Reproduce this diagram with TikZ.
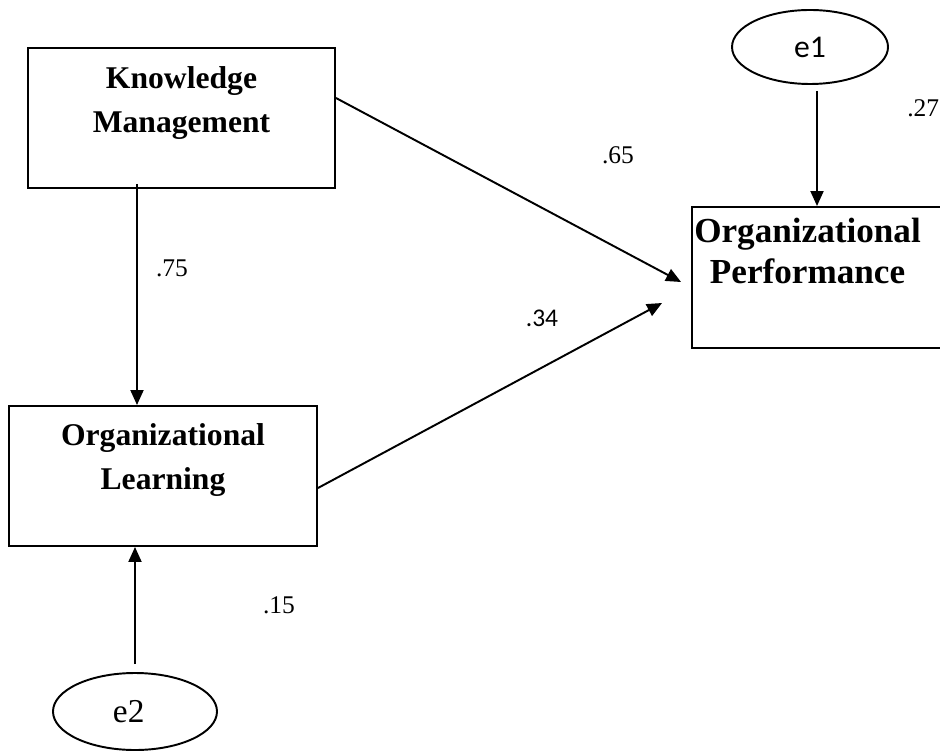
\documentclass[tikz,border=0pt]{standalone}
\usepackage{fontspec}
\setmainfont{Liberation Serif}
\newfontfamily\calibri{Carlito}
\usetikzlibrary{arrows.meta, positioning, calc, shapes.geometric}

\tikzset{
  box/.style={draw, line width=1.1pt, minimum width=6.14cm, minimum height=2.8cm, inner sep=0pt},
  boxtext/.style={font=\fontsize{18}{25}\selectfont\bfseries, align=center, inner sep=0pt, anchor=north},
  err/.style={draw, ellipse, line width=1.1pt, inner sep=0pt},
  arr/.style={line width=1.1pt, -{Triangle[length=0.3cm, width=0.26cm]}},
  coef/.style={font=\fontsize{14.5}{16}\selectfont, inner sep=0pt},
  coefsans/.style={font=\calibri\fontsize{14.5}{16}\selectfont, inner sep=0pt}
}

\begin{document}
\begin{tikzpicture}[x=0.2mm, y=-0.2mm]
    \useasboundingbox (0,0) rectangle (940,752);

    % Boxes
    \node[box] (km) at (181.5,118) {};
    \node[box, minimum width=6.16cm] (ol) at (163,476) {};
    \node[box, minimum width=5.2cm, minimum height=2.82cm] (op) at (822,277.5) {};

    % Box titles
    \node[boxtext] (km-t) at (181.5,66) {Knowledge\\Management};
    \node[boxtext] (ol-t) at (163,423) {Organizational\\Learning};
    \node[boxtext, font=\fontsize{20}{23}\selectfont\bfseries] (op-t) at (807.5,218) {Organizational\\Performance};

    % Error terms
    \node[err, font=\calibri\fontsize{18}{20}\selectfont, minimum width=3.12cm, minimum height=1.48cm] (e1) at (810,47) {e1};
    \node[err, font=\rmfamily\fontsize{19}{20}\selectfont, minimum width=3.28cm, minimum height=1.54cm] (e2) at (135,711.5) {\hspace*{-0.25cm}e2};

    % Paths
    \draw[arr] ($(km.east)+(0,-20)$) -- ($(op.west)+(-10,4.5)$);
    \draw[arr] ($(ol.east)+(0,12)$) -- ($(op.west)+(-29,25.5)$);
    \draw[arr] ($(km.south)+(-44.5,-5)$) coordinate (km-o) -- (km-o |- ol.north);
    \draw[arr] ($(e2.north)+(0,-8)$) -- (e2.north |- ol.south);
    \draw[arr] ($(e1.south)+(7,6)$) -- ($(e1.south |- op.north)+(7,0)$);

    % Coefficients
    \node[coef] (c65) at (618,155) {.65};
    \node[coefsans] (c34) at (542,318) {.34};
    \node[coef] (c75) at (172,268) {.75};
    \node[coef] (c15) at (279,605) {.15};
    \node[coef, anchor=west] (c27) at (907,108) {.27};
\end{tikzpicture}
\end{document}
